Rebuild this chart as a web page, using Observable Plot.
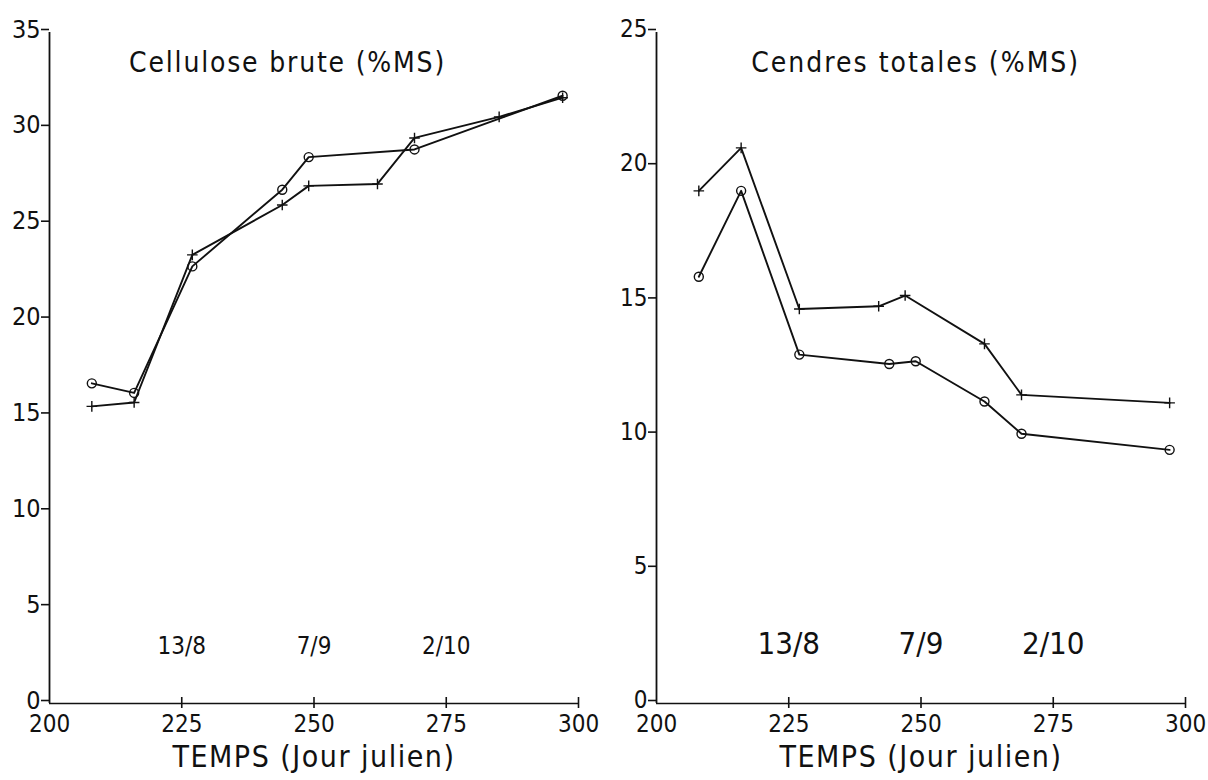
<!DOCTYPE html>
<html>
<head>
<meta charset="utf-8">
<script src="https://cdn.jsdelivr.net/npm/d3@7"></script>
<script src="https://cdn.jsdelivr.net/npm/@observablehq/plot@0.6"></script>
<style>
  html, body { margin: 0; padding: 0; background: #fff; }
  #wrap { display: flex; width: 1208px; height: 780px; }
  svg { overflow: visible; }
</style>
</head>
<body>
<div id="wrap"></div>
<script>
// ---- Data ----
const xTicks = [200, 225, 250, 275, 300];
const dateLabels = ["13/8", "7/9", "2/10"];
const dateDays = [225, 250, 275];
const xLabel = "TEMPS (Jour julien)";

// Panel 1: Cellulose brute (%MS)
const celTitle = "Cellulose brute (%MS)";
const celYTicks = [0, 5, 10, 15, 20, 25, 30, 35];
const celPlusDays = [208, 216, 227, 244, 249, 262, 269, 285, 297];
const celPlusVals = [15.5, 15.7, 23.4, 26.0, 27.0, 27.1, 29.5, 30.6, 31.6];
const celODays = [208, 216, 227, 244, 249, 269, 297];
const celOVals = [16.7, 16.2, 22.8, 26.8, 28.5, 28.9, 31.7];

// Panel 2: Cendres totales (%MS)
const cenTitle = "Cendres totales (%MS)";
const cenYTicks = [0, 5, 10, 15, 20, 25];
const cenPlusDays = [208, 216, 227, 242, 247, 262, 269, 297];
const cenPlusVals = [19.1, 20.7, 14.7, 14.8, 15.2, 13.4, 11.5, 11.2];
const cenODays = [208, 216, 227, 244, 249, 262, 269, 297];
const cenOVals = [15.9, 19.1, 13.0, 12.65, 12.75, 11.25, 10.05, 9.45];

const FONT = "'Liberation Sans Narrow', 'DejaVu Sans Condensed', sans-serif";

function toRows(days, vals, s) {
  return days.map((d, i) => ({day: d, v: vals[i], s}));
}

function panel(opts) {
  const plus = toRows(opts.plusDays, opts.plusVals, "+");
  const o = toRows(opts.oDays, opts.oVals, "o");
  const all = plus.concat(o);
  const svg = Plot.plot({
    width: 604,
    height: 780,
    marginLeft: opts.ml,
    marginRight: opts.mr,
    marginTop: 32,
    marginBottom: 77,
    style: {fontFamily: FONT, color: "#111", background: "white"},
    x: {domain: [200, 300], ticks: xTicks},
    y: {domain: opts.yDomain, ticks: opts.yTicks},
    marks: [
      Plot.ruleX([200], {stroke: "#111", strokeWidth: 1.8}),
      Plot.ruleY([0], {stroke: "#111", strokeWidth: 1.6}),
      Plot.ruleX(xTicks.slice(1), {x: d => d, y1: 0, y2: 0, insetTop: -6, insetBottom: -5, stroke: "#111", strokeWidth: 1.6}),
      Plot.axisY({ticks: opts.yTicks, tickSize: 8, tickPadding: 1, dy: -3, fontSize: opts.tickFont, tickFormat: d => String(d), label: null, stroke: "#111", strokeWidth: 1.6}),
      Plot.axisX({ticks: xTicks, tickSize: 0, tickPadding: 11, fontSize: 24, tickFormat: d => String(d), label: null}),
      Plot.line(all, {x: "day", y: "v", z: "s", stroke: "#111", strokeWidth: 1.9}),
      Plot.dot(plus, {x: "day", y: "v", symbol: "plus", r: 3.5, stroke: "#111", strokeWidth: 1.4}),
      Plot.dot(o, {x: "day", y: "v", symbol: "circle", r: 4.5, stroke: "#111", fill: "none", strokeWidth: 1.4}),
      Plot.text([opts.title], {x: opts.titleX, frameAnchor: "top", dy: 20, fontSize: 28, fill: "#111"}),
      Plot.text(dateLabels, {x: (d, i) => dateDays[i], frameAnchor: "bottom", dy: -50, fontSize: opts.dateFont, fill: "#111"}),
      Plot.text([xLabel], {x: 250, frameAnchor: "bottom", dy: 63, fontSize: 30, fill: "#111"})
    ]
  });
  d3.select(svg).selectAll("text")
    .filter(function() { return this.textContent === opts.title; })
    .style("letter-spacing", opts.titleLS + "px");
  d3.select(svg).selectAll("text")
    .filter(function() { return this.textContent === xLabel; })
    .style("letter-spacing", "1.5px");
  return svg;
}

const wrap = document.getElementById("wrap");
wrap.appendChild(panel({
  title: celTitle, titleX: 245, titleLS: 1.8, yDomain: [0, 35], yTicks: celYTicks,
  plusDays: celPlusDays, plusVals: celPlusVals, oDays: celODays, oVals: celOVals,
  ml: 49, mr: 26, tickFont: 25, dateFont: 24
}));
wrap.appendChild(panel({
  title: cenTitle, titleX: 249, titleLS: 2.0, yDomain: [0, 25], yTicks: cenYTicks,
  plusDays: cenPlusDays, plusVals: cenPlusVals, oDays: cenODays, oVals: cenOVals,
  ml: 52, mr: 23, tickFont: 24, dateFont: 31
}));
</script>
</body>
</html>
